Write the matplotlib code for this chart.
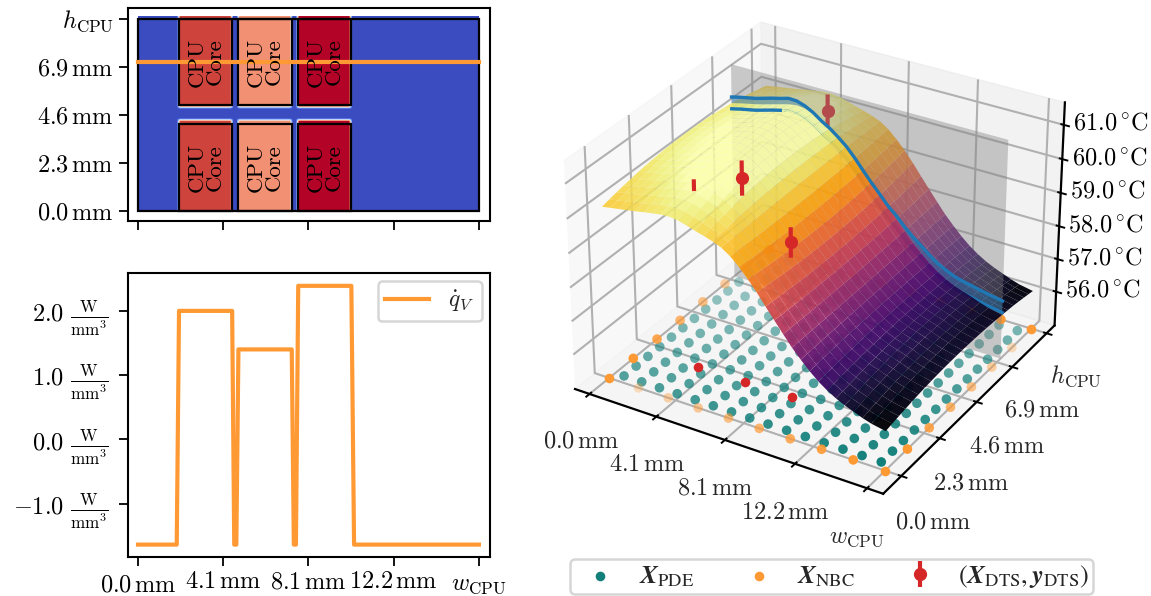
import numpy as np
import matplotlib; matplotlib.use('Agg')
import matplotlib.pyplot as plt
from matplotlib import cm
from matplotlib.patches import Rectangle
from mpl_toolkits.mplot3d import proj3d

plt.rcParams.update({
    'font.family': 'cmr10', 'mathtext.fontset': 'cm', 'font.size': 17.5,
    'axes.formatter.use_mathtext': True,
    'axes.unicode_minus': False, 'axes.linewidth': 1.5,
    'xtick.major.size': 6.5, 'ytick.major.size': 6.5,
    'xtick.major.width': 1.3, 'ytick.major.width': 1.3,
    'xtick.color': 'k', 'text.color': '#262626',
})
W, H = 1151, 596
C_LINE = '#ff9933'; C_PDE = '#117f7a'; C_RED = '#d62728'; C_BLUE = '#1f77b4'

w_ticks = [0.0, 4.07, 8.15, 12.22, 16.3]
w_labels = ['0.0', '4.1', '8.1', '12.2']
h_ticks = [0.0, 2.3, 4.6, 6.9, 9.2]
h_labels = ['0.0', '2.3', '4.6', '6.9']
h_slice = 7.14

# cores: w0, w1, heat
core_w0 = [1.96, 4.8, 7.66]
core_w1 = [4.5, 7.35, 10.2]
core_q = [2.0, 1.4, 2.39]
core_h = [(0.0, 4.15), (5.05, 9.2)]
q_base = -1.64

w_q = [0.0, 1.85, 1.96, 4.5, 4.6, 4.7, 4.8, 7.35, 7.45, 7.55, 7.66, 10.2, 10.33, 16.3]
q_v = [-1.64, -1.64, 2.0, 2.0, -1.64, -1.64, 1.4, 1.4, -1.64, -1.64, 2.39, 2.39, -1.64, -1.64]
q_ticks = [-1.0, 0.0, 1.0, 2.0]

w_surf = [0.0, 0.5, 1.0, 1.5, 2.0, 2.5, 3.0, 3.5, 4.0, 4.5, 5.0, 5.5, 6.0, 6.5, 7.0, 7.5, 8.0,
          8.5, 9.0, 9.5, 10.0, 10.5, 11.0, 11.5, 12.0, 12.5, 13.0, 13.5, 14.0, 14.5, 15.0, 15.5, 16.3]
t_edge = [60.05, 60.09, 60.13, 60.17, 60.21, 60.26, 60.3, 60.34, 60.35, 60.32, 60.25, 60.17, 60.1, 60.02, 59.92, 59.75, 59.52,
          59.25, 58.95, 58.62, 58.3, 57.98, 57.67, 57.4, 57.15, 56.93, 56.75, 56.6, 56.48, 56.38, 56.28, 56.2, 56.12]
t_dome = [0.35, 0.38, 0.4, 0.42, 0.45, 0.48, 0.52, 0.56, 0.6, 0.6, 0.58, 0.5, 0.35, 0.2, 0.05, -0.08, -0.15,
          -0.2, -0.2, -0.15, -0.1, -0.05, 0.0, 0.04, 0.08, 0.12, 0.16, 0.2, 0.24, 0.26, 0.26, 0.26, 0.25]
h_surf = [0.0, 0.38, 0.77, 1.15, 1.53, 1.92, 2.3, 2.68, 3.07, 3.45, 3.83, 4.22, 4.6, 4.98, 5.37, 5.75, 6.13, 6.63,
          7.14, 7.52, 7.9, 8.25, 8.6, 8.9, 9.2]
h_weight = [0.0, 0.16, 0.3, 0.43, 0.55, 0.66, 0.75, 0.83, 0.89, 0.94, 0.97, 0.99, 1.0, 0.99, 0.97, 0.94, 0.89, 0.8,
            0.7, 0.6, 0.5, 0.38, 0.25, 0.13, 0.0]
# the blue curve along the slice, with its band half width
t_slice = [60.3, 60.36, 60.41, 60.46, 60.53, 60.6, 60.66, 60.73, 60.72, 60.64, 60.51, 60.33, 60.18, 59.99, 59.78, 59.51, 59.21,
           58.92, 58.65, 58.37, 58.15, 57.89, 57.66, 57.47, 57.26, 57.08, 56.95, 56.84, 56.77, 56.72, 56.66, 56.61, 56.54]
band_half = 0.22

w_pde = [0.54, 1.63, 2.72, 3.8, 4.89, 5.98, 7.07, 8.15, 9.23, 10.32, 11.41, 12.5, 13.58, 14.67, 15.76]
h_pde = [0.33, 0.99, 1.64, 2.3, 2.96, 3.61, 4.27, 4.93, 5.59, 6.24, 6.9, 7.56, 8.21, 8.87]
w_nbc = [0.0, 1.81, 3.62, 5.43, 7.24, 9.06, 10.87, 12.68, 14.49, 16.3]
h_nbc = [0.0, 1.31, 2.63, 3.94, 5.26, 6.57, 7.89, 9.2]
w_dts = [3.31, 6.15, 8.95, 5.0]
h_dts = [1.95, 1.95, 1.95, 8.0]
t_dts = [60.36, 60.97, 59.54, 60.4]
t_err = [0.17, 0.5, 0.44, 0.5]

fig = plt.figure(figsize=(W/100, H/100), dpi=100)
def px_axes(x0, y0, x1, y1, **kw):
    return fig.add_axes([x0/W, 1-y1/H, (x1-x0)/W, (y1-y0)/H], **kw)

def mm(vals):
    return [rf'${v}\,\mathrm{{mm}}$' for v in vals]

# top left
ax1 = px_axes(128, 7.5, 490, 221)
dx = 0.15
n_w = int(round(16.3/dx)); n_h = int(round(9.3/dx))
field = np.full((n_h, n_w), q_base)
iw = (np.arange(n_w)+0.5)*dx; ih = (np.arange(n_h)+0.5)*dx
for w0, w1, q in zip(core_w0, core_w1, core_q):
    for h0, h1 in core_h:
        field[np.ix_((ih > h0-dx/2) & (ih < h1+dx), (iw > w0-dx/2) & (iw < w1+dx/2))] = q
ax1.imshow(field, origin='lower', extent=[0, 16.3, 0, 9.3], cmap='coolwarm', vmin=q_base, vmax=2.3,
           interpolation='bilinear', aspect='auto')
ax1.add_patch(Rectangle((0, 0), 16.3, 9.2, fill=False, ec='k', lw=1.6))
for w0, w1 in zip(core_w0, core_w1):
    for h0, h1 in core_h:
        ax1.add_patch(Rectangle((w0, h0), w1-w0, h1-h0, fill=False, ec='k', lw=1.6))
        ax1.text((w0+w1)/2, (h0+h1)/2, 'CPU\nCore', rotation=90, ha='center', va='center',
                 fontsize=16.5, color='k', linespacing=0.9)
ax1.plot([0, 16.3], [h_slice, h_slice], color=C_LINE, lw=3)
ax1.set_xlim(-0.48, 16.83); ax1.set_ylim(-0.49, 9.73)
ax1.set_xticks(w_ticks); ax1.set_xticklabels([])
ax1.set_yticks(h_ticks); ax1.set_yticklabels(mm(h_labels)+[r'$h_{\mathrm{CPU}}$'])

# bottom left
ax2 = px_axes(128, 273, 490, 557)
ax2.plot(w_q, q_v, color=C_LINE, lw=3, label=r'$\dot{q}_V$')
ax2.set_xlim(-0.48, 16.83); ax2.set_ylim(-1.833, 2.59)
ax2.set_xticks(w_ticks); ax2.set_xticklabels(mm(w_labels)+[r'$w_{\mathrm{CPU}}$'])
for i in (0, 4):
    ax2.get_xticklabels()[i].set_y(-0.012)
ax2.set_yticks(q_ticks)
ax2.set_yticklabels([rf'${v:.1f}\ \frac{{\mathrm{{W}}}}{{\mathrm{{mm}}^3}}$' for v in q_ticks])
ax2.tick_params(axis='y', pad=7.5)
ax2.legend(loc='upper right', fontsize=17, fancybox=True, framealpha=0.8, edgecolor='#cccccc',
           handlelength=1.9, borderaxespad=0.35, borderpad=0.3).get_frame().set_linewidth(1.8)
# legend proxy only, 3d errorbars have no legend handler
eb0 = ax2.errorbar([np.nan], [np.nan], yerr=[0.1], fmt='o', color=C_RED, ms=8.5, elinewidth=3)

# 3d panel
ax3 = px_axes(513.5, -22, 1109.5, 529.5, projection='3d', computed_zorder=False)
ax3.view_init(elev=30, azim=-59)
ax3.set_box_aspect((3.92, 3.92, 2.86))
T = np.array(t_edge)[None, :] + np.array(h_weight)[:, None]*np.array(t_dome)[None, :]
X, Y = np.meshgrid(w_surf, h_surf)
norm = plt.Normalize(56.15, 60.6)
cols = cm.inferno(norm(T))
cols[..., 3] = 0.97 - 0.1*norm(T).clip(0, 1)
k = h_surf.index(h_slice)
ax3.plot_surface(X[k:], Y[k:], T[k:], facecolors=cols[k:], rstride=1, cstride=1, shade=False, zorder=2, lw=0)
ax3.plot_surface(X[:k+1], Y[:k+1], T[:k+1], facecolors=cols[:k+1], rstride=1, cstride=1, shade=False, zorder=6, lw=0)

z_lo, z_hi, z_plane = 54.95, 61.65, 61.45
x_lo, x_hi = -0.9, 17.2
y_lo, y_hi = -1.05, 9.75
ax3.plot_surface(np.array([[0, 16.3], [0, 16.3]]), np.full((2, 2), h_slice), np.array([[z_lo, z_lo], [z_plane, z_plane]]),
                 color='#808080', alpha=0.4, shade=False, zorder=3, lw=0)
t_line = np.array(t_slice)
ax3.plot_surface(np.array([w_surf, w_surf]), np.full((2, len(w_surf)), h_slice),
                 np.array([t_line-band_half, t_line+band_half]), color=C_BLUE, alpha=0.4, shade=False, zorder=4, lw=0)
ax3.plot(w_surf, [h_slice]*len(w_surf), t_line+band_half*0.8, color=C_BLUE, lw=2.4, zorder=7)
ax3.plot(w_surf, [h_slice]*len(w_surf), t_line-band_half*0.8, color=C_BLUE, lw=2.4, zorder=5)
ax3.plot(w_surf[:7], [h_slice]*7, (t_line-band_half*0.8)[:7], color=C_BLUE, lw=2.4, zorder=7)

# floor points
XP, YP = np.meshgrid(w_pde, h_pde)
s_pde = ax3.scatter(XP.ravel(), YP.ravel(), z_lo, color=C_PDE, s=48, lw=0, zorder=1)
ax3.scatter(w_nbc[1:-1], [0.0]*8, z_lo, color=C_LINE, s=48, lw=0, zorder=1.1)
ax3.scatter(w_nbc[1:-1], [9.2]*8, z_lo, color=C_LINE, s=48, lw=0, zorder=1.1)
ax3.scatter([0.0]*6, h_nbc[1:-1], z_lo, color=C_LINE, s=48, lw=0, zorder=1.1)
ax3.scatter([16.3]*6, h_nbc[1:-1], z_lo, color=C_LINE, s=48, lw=0, zorder=1.1)
s_nbc = ax3.scatter([0, 16.3, 0, 16.3], [0, 0, 9.2, 9.2], z_lo, color=C_LINE, s=48, lw=0, zorder=1.1, depthshade=False)
ax3.scatter(w_dts[:3], h_dts[:3], z_lo, color=C_RED, s=48, lw=0, zorder=1.2, depthshade=False)
for i, (a, b, c, e) in enumerate(zip(w_dts, h_dts, t_dts, t_err)):
    ax3.errorbar(a, b, c, zerr=e, fmt='none' if i == 0 else 'o', color=C_RED, ecolor=C_RED, ms=8.5, elinewidth=3,
                 zorder=2.5 if i == 3 else 8)

ax3.set_xlim(x_lo, x_hi); ax3.set_ylim(y_lo, y_hi); ax3.set_zlim(z_lo, z_hi)
ax3.set_xticks(w_ticks); ax3.set_xticklabels([''] * 5)
ax3.set_yticks(h_ticks); ax3.set_yticklabels([''] * 5)
ax3.set_zticks([56, 57, 58, 59, 60, 61])
ax3.set_zticklabels([rf'${v}.0\,^{{\circ}}\mathrm{{C}}$' for v in [56, 57, 58, 59, 60, 61]], ha='left', va='center')
ax3.tick_params(axis='z', pad=-4)
# 3d tick labels as projected text, pad alone cannot place them
M = ax3.get_proj()
def label3d(x, y, z, s):
    px, py, _ = proj3d.proj_transform(x, y, z, M)
    ax3.text2D(px, py, s, transform=ax3.transData, ha='center', va='center', zorder=20)
for v, lab in zip(w_ticks, mm(w_labels)+[r'$w_{\mathrm{CPU}}$']):
    label3d(v, y_lo-0.55, z_lo-1.2, lab)
for v, lab in zip(h_ticks, mm(h_labels)+[r'$h_{\mathrm{CPU}}$']):
    label3d(x_hi+1.85, v, z_lo-1.05, lab)
for a in (ax3.xaxis, ax3.yaxis, ax3.zaxis):
    a.line.set_linewidth(1.6)
    a._axinfo['grid'].update(color='#b0b0b0', linewidth=1.5)
    a._axinfo['tick'].update(linewidth={True: 1.4, False: 0.5})

leg = fig.legend([s_pde, s_nbc, eb0], [r'$\mathbfit{X}_{\mathrm{PDE}}$', r'$\mathbfit{X}_{\mathrm{NBC}}$',
                                       r'$(\mathbfit{X}_{\mathrm{DTS}},\mathbfit{y}_{\mathrm{DTS}})\!\!$'],
                 ncol=3, loc='lower left', bbox_to_anchor=(570/W, 1-594/H), borderaxespad=0, fontsize=19,
                 edgecolor='#cccccc', framealpha=0.8, columnspacing=1.46, borderpad=0.15, handletextpad=0.45)
leg.get_frame().set_linewidth(1.8)
for t in leg.get_texts():
    t.set_math_fontfamily('stix')
fig.savefig('out.png', dpi=100)
